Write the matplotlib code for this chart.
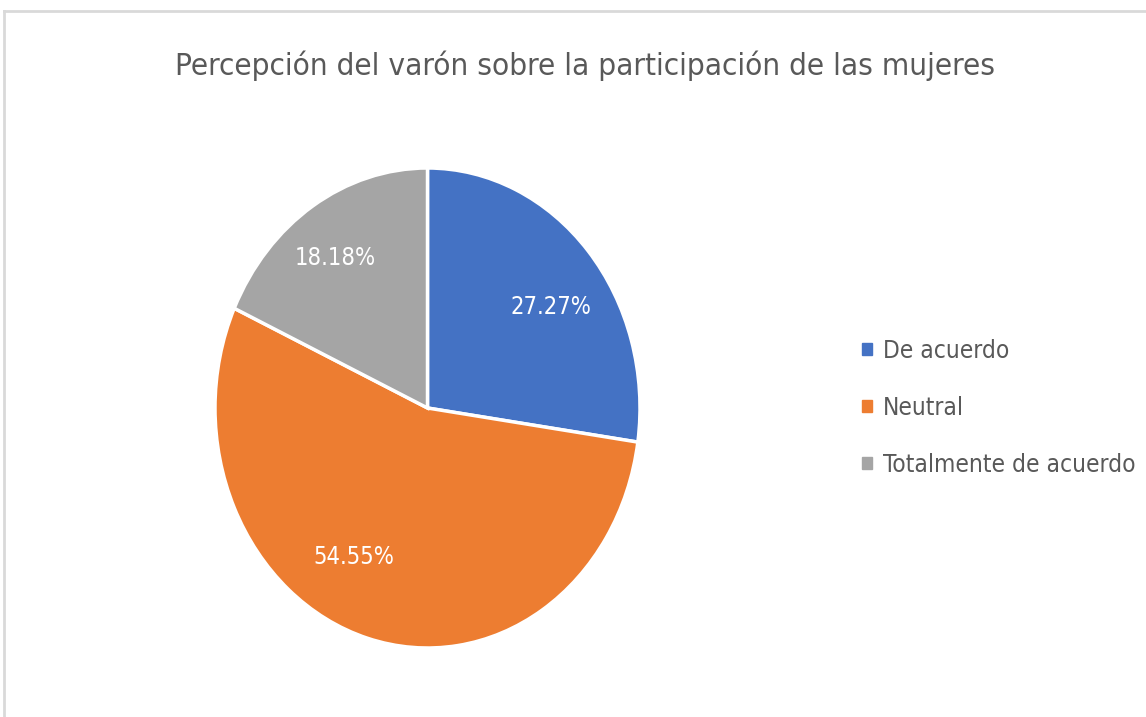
import matplotlib
matplotlib.use('Agg')
import numpy as np
import matplotlib.pyplot as plt
import matplotlib.patches as mpatches
from matplotlib.lines import Line2D
from matplotlib import font_manager

# prefer a narrow face (the original uses Calibri)
_names = {f.name for f in font_manager.fontManager.ttflist}
if 'Liberation Sans Narrow' in _names:
    plt.rcParams['font.family'] = ['Liberation Sans Narrow', 'DejaVu Sans']
else:
    plt.rcParams['font.family'] = ['DejaVu Sans']
    plt.rcParams['font.stretch'] = 'condensed'

TITLE = 'Percepción del varón sobre la participación de las mujeres'
LABELS = ['De acuerdo', 'Neutral', 'Totalmente de acuerdo']
VALUES = [27.27, 54.55, 18.18]
COLORS = ['#4472c4', '#ed7d31', '#a5a5a5']
TEXT_COLOR = '#595959'
# (radius, angle shift in degrees) of each percent label, "best fit" like the original
LABEL_PLACE = [(0.72, -5), (0.71, -13), (0.76, 2)]

fig = plt.figure(figsize=(11.46, 7.17), dpi=100)

# chart frame (light grey border on top and left)
fig.add_artist(Line2D([4 / 1146, 1], [1 - 11 / 717, 1 - 11 / 717], color='#d9d9d9', lw=2))
fig.add_artist(Line2D([4 / 1146, 4 / 1146], [0, 1 - 11 / 717], color='#d9d9d9', lw=2))

fig.text(585 / 1146, 1 - 66 / 717, TITLE, ha='center', va='center',
         fontsize=22.6, color=TEXT_COLOR)

ax = fig.add_axes([215 / 1146, (717 - 648) / 717, 425 / 1146, 480 / 717])
wedges, texts, autotexts = ax.pie(VALUES, colors=COLORS, startangle=90, counterclock=False,
                                  autopct='%.2f%%', pctdistance=0.72,
                                  wedgeprops=dict(edgecolor='white', linewidth=2.5),
                                  textprops=dict(color='white', fontsize=17))
for w, t, (r, shift) in zip(wedges, autotexts, LABEL_PLACE):
    ang = np.deg2rad((w.theta1 + w.theta2) / 2 + shift)
    t.set_position((r * np.cos(ang), r * np.sin(ang)))
ax.set_aspect('auto')
ax.set_xlim(-1, 1)
ax.set_ylim(-1, 1)
ax.axis('off')

handles = [mpatches.Patch(color=c, label=l) for c, l in zip(COLORS, LABELS)]
leg = fig.legend(handles=handles, loc='center left', bbox_to_anchor=(840 / 1146, 1 - 408 / 717),
                 frameon=False, fontsize=17.6, handlelength=0.4, handleheight=0.4,
                 handletextpad=0.45, labelspacing=1.35, labelcolor=TEXT_COLOR)

fig.savefig('out.png', dpi=100)
